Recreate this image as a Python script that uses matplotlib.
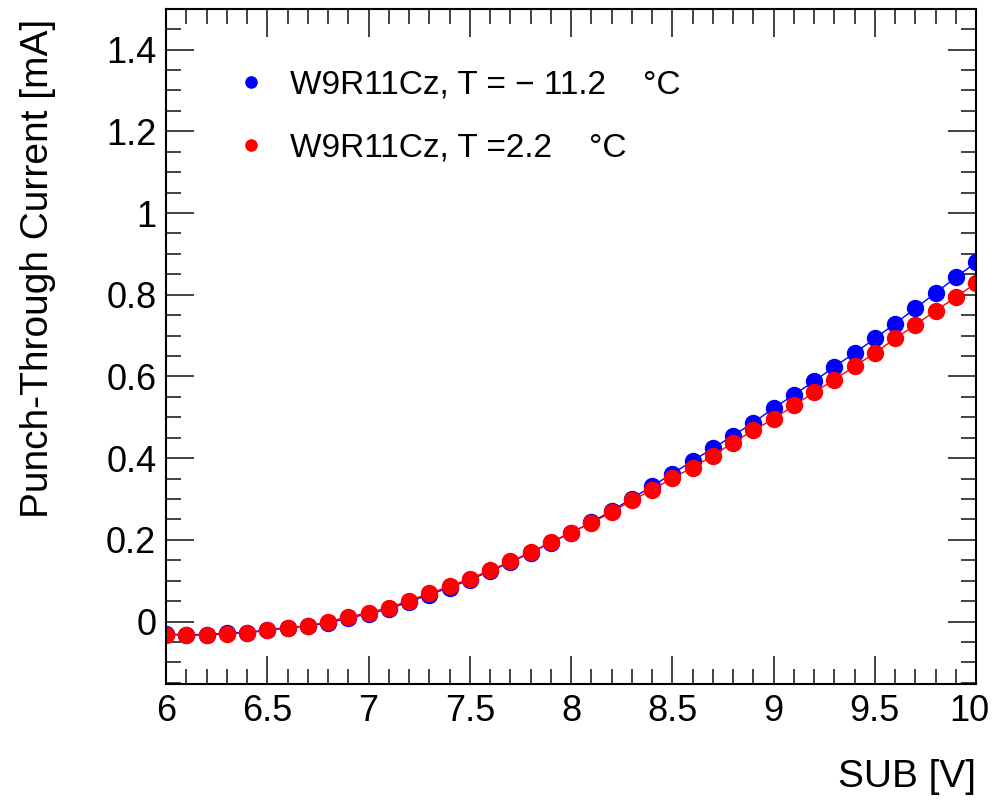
import numpy as np
import matplotlib.pyplot as plt
import matplotlib.transforms as mtransforms
from matplotlib.ticker import MultipleLocator

plt.rcParams['font.family'] = ['Liberation Sans', 'DejaVu Sans']

# SUB voltage [V]
sub_v = [6.0, 6.1, 6.2, 6.3, 6.4, 6.5, 6.6, 6.7, 6.8, 6.9,
         7.0, 7.1, 7.2, 7.3, 7.4, 7.5, 7.6, 7.7, 7.8, 7.9,
         8.0, 8.1, 8.2, 8.3, 8.4, 8.5, 8.6, 8.7, 8.8, 8.9,
         9.0, 9.1, 9.2, 9.3, 9.4, 9.5, 9.6, 9.7, 9.8, 9.9, 10.0]

# punch-through current [mA], T = -11.2 C
cur_cold = [-0.031, -0.032, -0.032, -0.028, -0.027, -0.020, -0.015, -0.011, -0.003, 0.008,
            0.019, 0.031, 0.048, 0.066, 0.083, 0.102, 0.123, 0.145, 0.168, 0.193,
            0.217, 0.243, 0.271, 0.301, 0.331, 0.362, 0.393, 0.424, 0.455, 0.487,
            0.522, 0.555, 0.588, 0.624, 0.657, 0.693, 0.729, 0.767, 0.804, 0.843, 0.879]

# punch-through current [mA], T = 2.2 C
cur_warm = [-0.033, -0.033, -0.034, -0.030, -0.028, -0.022, -0.016, -0.011, 0.000, 0.011,
            0.022, 0.034, 0.051, 0.069, 0.086, 0.105, 0.125, 0.147, 0.169, 0.195,
            0.217, 0.242, 0.267, 0.297, 0.322, 0.351, 0.377, 0.406, 0.438, 0.468,
            0.496, 0.529, 0.561, 0.592, 0.625, 0.657, 0.693, 0.726, 0.761, 0.794, 0.829]

labels = ['W9R11Cz, T = \u2212 11.2    \u00b0C', 'W9R11Cz, T =2.2    \u00b0C']

fig = plt.figure(figsize=(9.94, 8.0), dpi=100)
ax = fig.add_axes([0.167, 0.145, 0.815, 0.844])

ax.plot(sub_v, cur_cold, color='blue', lw=1, marker='o', ms=11.5, label=labels[0])
ax.plot(sub_v, cur_warm, color='red', lw=1, marker='o', ms=11.5, label=labels[1])

ax.set_xlim(6, 10)
ax.set_ylim(-0.153, 1.5)
ax.xaxis.set_minor_locator(MultipleLocator(0.1))
ax.yaxis.set_minor_locator(MultipleLocator(0.05))
ax.set_xticks([6, 6.5, 7, 7.5, 8, 8.5, 9, 9.5, 10])
ax.set_xticklabels(['6', '6.5', '7', '7.5', '8', '8.5', '9', '9.5', '10'])
ax.set_yticks([0, 0.2, 0.4, 0.6, 0.8, 1.0, 1.2, 1.4])
ax.set_yticklabels(['0', '0.2', '0.4', '0.6', '0.8', '1', '1.2', '1.4'])

ax.tick_params(which='both', direction='in', top=True, right=True,
               labelsize=26, width=1.2, color='#222222')
ax.tick_params(which='major', length=20, pad=7)
ax.tick_params(which='minor', length=11)
for s in ax.spines.values():
    s.set_linewidth(1.5)

# nudge the last x label so it stays inside the canvas
last = ax.get_xticklabels()[-1]
last.set_transform(last.get_transform() +
                   mtransforms.ScaledTranslation(-7 / 100, 0, fig.dpi_scale_trans))

ax.set_xlabel('SUB [V]', fontsize=28, loc='right', labelpad=22)
ax.set_ylabel('Punch-Through Current [mA]', fontsize=28, loc='top', labelpad=36)
ax.yaxis.label.set_y(0.985)

ax.legend(loc='upper left', bbox_to_anchor=(0.056, 0.954), frameon=False,
          fontsize=24, markerscale=0.7, handlelength=0.6, handletextpad=0.85,
          labelspacing=0.96)
leg = ax.get_legend()
for line in leg.get_lines():
    line.set_linestyle('none')

fig.savefig('out.png', dpi=100)
